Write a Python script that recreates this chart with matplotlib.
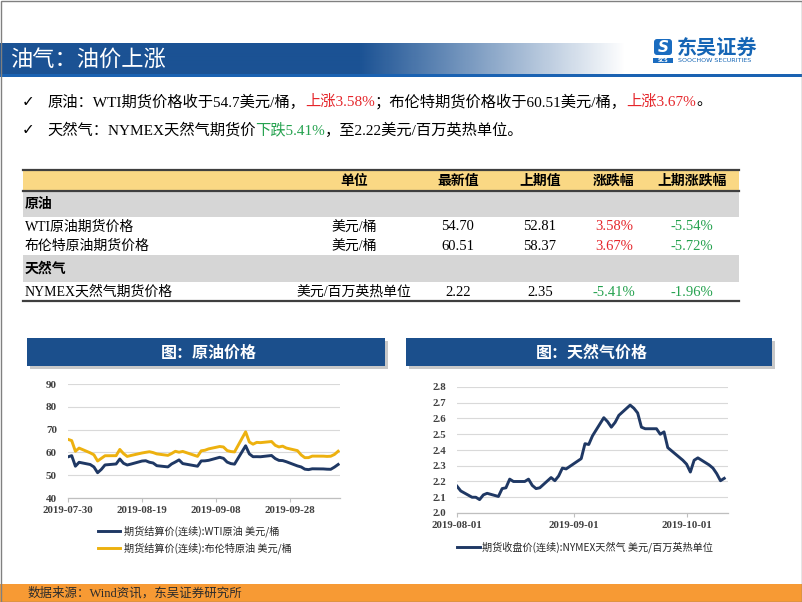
import matplotlib
matplotlib.use('Agg')
import matplotlib.pyplot as plt
from matplotlib.patches import Rectangle, FancyBboxPatch
import numpy as np
import pandas as pd

# ---------------- data ----------------
oil_dates = ['2019-07-30', '2019-07-31', '2019-08-01', '2019-08-02', '2019-08-05', '2019-08-06',
             '2019-08-07', '2019-08-08', '2019-08-09', '2019-08-12', '2019-08-13', '2019-08-14',
             '2019-08-15', '2019-08-16', '2019-08-19', '2019-08-20', '2019-08-21', '2019-08-22',
             '2019-08-23', '2019-08-26', '2019-08-27', '2019-08-28', '2019-08-29', '2019-08-30',
             '2019-09-03', '2019-09-04', '2019-09-05', '2019-09-06', '2019-09-09', '2019-09-10',
             '2019-09-11', '2019-09-12', '2019-09-13', '2019-09-16', '2019-09-17', '2019-09-18',
             '2019-09-19', '2019-09-20', '2019-09-23', '2019-09-24', '2019-09-25', '2019-09-26',
             '2019-09-27', '2019-09-30', '2019-10-01', '2019-10-02', '2019-10-03', '2019-10-04',
             '2019-10-07', '2019-10-08', '2019-10-09', '2019-10-10', '2019-10-11']
wti = [58.05, 58.58, 53.95, 55.66, 54.69, 53.63, 51.09, 52.54, 54.50, 54.93, 57.10, 55.23,
       54.47, 54.87, 56.21, 56.34, 55.68, 55.35, 54.17, 53.64, 54.93, 55.78, 56.71, 55.10,
       53.94, 56.26, 56.30, 56.52, 57.85, 57.40, 55.75, 55.09, 54.85, 62.90, 59.34, 58.11,
       58.13, 58.09, 58.64, 57.29, 56.49, 56.41, 55.91, 54.07, 53.62, 52.64, 52.45, 52.81,
       52.75, 52.63, 52.59, 53.55, 54.70]
brent = [65.72, 65.17, 60.50, 61.89, 59.81, 58.94, 56.23, 57.38, 58.53, 58.57, 61.30, 59.48,
         58.23, 58.64, 59.74, 60.03, 60.30, 59.92, 59.34, 58.70, 59.51, 60.49, 60.08, 60.43,
         58.26, 60.70, 60.95, 61.54, 62.59, 62.38, 60.81, 60.38, 60.22, 69.02, 64.55, 63.60,
         64.40, 64.28, 64.77, 63.10, 62.39, 62.74, 61.91, 60.78, 58.89, 57.69, 57.71, 58.37,
         58.35, 58.24, 58.32, 59.10, 60.51]
gas_dates = oil_dates[2:]
gas = [2.17, 2.14, 2.10, 2.10, 2.085, 2.115, 2.125, 2.105, 2.155, 2.16, 2.215, 2.20,
       2.20, 2.215, 2.175, 2.155, 2.16, 2.225, 2.205, 2.235, 2.285, 2.28,
       2.345, 2.44, 2.435, 2.49, 2.605, 2.58, 2.545, 2.575, 2.62, 2.685, 2.665, 2.635,
       2.545, 2.535, 2.535, 2.50, 2.515, 2.415, 2.395, 2.335,
       2.31, 2.26, 2.335, 2.35, 2.305, 2.285, 2.25, 2.205, 2.22]
oil_ticks = ['2019-07-30', '2019-08-19', '2019-09-08', '2019-09-28']
oil_yticks = [40, 50, 60, 70, 80, 90]
gas_ticks = ['2019-08-01', '2019-09-01', '2019-10-01']
gas_yticks = [2.0, 2.1, 2.2, 2.3, 2.4, 2.5, 2.6, 2.7, 2.8]

table_header = ['单位', '最新值', '上期值', '涨跌幅', '上期涨跌幅']
table_sections = ['原油', '天然气']
table_names = ['WTI原油期货价格', '布伦特原油期货价格', 'NYMEX天然气期货价格']
table_units = ['美元/桶', '美元/桶', '美元/百万英热单位']
table_latest = ['54.70', '60.51', '2.22']
table_prev = ['52.81', '58.37', '2.35']
table_chg = ['3.58%', '3.67%', '-5.41%']
table_prev_chg = ['-5.54%', '-5.72%', '-1.96%']

# ---------------- styles ----------------
W, H = 802, 602
SERIF = ['Liberation Serif', 'Noto Sans CJK SC', 'DejaVu Sans']
SANS = ['Noto Sans CJK SC', 'DejaVu Sans']
BLUE = '#1B4F8C'
NAVY = '#1F3864'
GOLD = '#EDB10F'
RED = '#E5262B'
GREEN = '#25A24F'

fig = plt.figure(figsize=(W / 100, H / 100), dpi=100)
bg = fig.add_axes([0, 0, 1, 1])
bg.axis('off')
renderer = fig.canvas.get_renderer()

# frame
bg.add_patch(Rectangle((0.5, 0.5), W - 1, H - 1, fill=False, ec='#808080', lw=1.0, zorder=10))

# title bar with gradient
xs = np.arange(W)
alpha = np.clip((625 - xs) / (625 - 360), 0, 1)
img = np.zeros((1, W, 4))
img[0, :, 0] = 0x1B / 255
img[0, :, 1] = 0x52 / 255
img[0, :, 2] = 0x94 / 255
img[0, :, 3] = alpha
bg.imshow(img, extent=[0, W, 74, 43], aspect='auto', interpolation='bilinear', zorder=1)
bg.add_patch(Rectangle((0, 74), W, 3, color='#1A62B2', lw=0, zorder=2))
bg.text(10, 59, '油气：油价上涨', color='white', fontsize=16, family=SANS,
        va='center', ha='left', zorder=3)

# logo
bg.add_patch(FancyBboxPatch((654, 39), 18, 16, boxstyle='round,pad=0,rounding_size=3',
                            fc='#1A6CC0', ec='none', zorder=3))
bg.text(663, 47.5, 'S', color='white', fontsize=11, fontweight='bold', style='italic',
        family='DejaVu Sans', ha='center', va='center', zorder=4)
bg.add_patch(Rectangle((653, 57.5), 20, 5, color='#1A6CC0', lw=0, zorder=3))
bg.text(663, 60, 'SCS', color='white', fontsize=3.5, fontweight='bold', family='DejaVu Sans',
        ha='center', va='center', zorder=4)
bg.text(677, 47, '东吴证券', color='#1565B5', fontsize=14.5, fontweight='bold', family=SANS,
        ha='left', va='center', zorder=3)
bg.text(678, 60.5, 'SOOCHOW SECURITIES', color='#1565B5', fontsize=4.6, family='DejaVu Sans',
        ha='left', va='center', zorder=3)


def seq_text(x, y, parts, **kw):
    for s, c in parts:
        t = bg.text(x, y, s, color=c, ha='left', va='center', **kw)
        bb = t.get_window_extent(renderer=renderer)
        x += bb.width


# bullets
bg.set_xlim(0, W)
bg.set_ylim(H, 0)
bg.text(22, 102, '✓', fontsize=11, family=['DejaVu Sans'], ha='left', va='center')
bg.text(22, 130, '✓', fontsize=11, family=['DejaVu Sans'], ha='left', va='center')
seq_text(47, 102, [('原油：WTI期货价格收于54.7美元/桶，', 'black'), ('上涨3.58%', RED),
                   ('；布伦特期货价格收于60.51美元/桶，', 'black'), ('上涨3.67%', RED),
                   ('。', 'black')], fontsize=11, family=SERIF)
seq_text(47, 130, [('天然气：NYMEX天然气期货价', 'black'), ('下跌5.41%', GREEN),
                   ('，至2.22美元/百万英热单位。', 'black')], fontsize=11, family=SERIF)

# table
TL, TR = 23, 739
bg.add_patch(Rectangle((TL, 171), TR - TL, 20, color='#FAD884', lw=0, zorder=1))
bg.add_patch(Rectangle((TL, 192), TR - TL, 25, color='#D6D6D6', lw=0, zorder=1))
bg.add_patch(Rectangle((TL, 255), TR - TL, 27, color='#D6D6D6', lw=0, zorder=1))
for yy, lw in [(170, 1.6), (191, 1.6), (301, 1.6)]:
    bg.plot([TL, TR], [yy, yy], color='#3F3F3F', lw=lw, zorder=2)
col_x = [354, 458, 540, 614, 692]
for cx, h in zip(col_x, table_header):
    bg.text(cx, 181, h, fontsize=10, fontweight='bold', family=SANS, ha='center', va='center')
bg.text(25, 204, table_sections[0], fontsize=10, fontweight='bold', family=SANS, va='center')
bg.text(25, 269, table_sections[1], fontsize=10, fontweight='bold', family=SANS, va='center')
row_y = [227, 246, 292]
for i, ry in enumerate(row_y):
    bg.text(25, ry, table_names[i], fontsize=10, family=SERIF, va='center', ha='left')
    bg.text(col_x[0], ry, table_units[i], fontsize=10, family=SERIF, va='center', ha='center')
    bg.text(col_x[1], ry, table_latest[i], fontsize=10.5, family=SERIF, va='center', ha='center')
    bg.text(col_x[2], ry, table_prev[i], fontsize=10.5, family=SERIF, va='center', ha='center')
    c1 = GREEN if table_chg[i].startswith('-') else RED
    c2 = GREEN if table_prev_chg[i].startswith('-') else RED
    bg.text(col_x[3], ry, table_chg[i], fontsize=10.5, family=SERIF, va='center', ha='center', color=c1)
    bg.text(col_x[4], ry, table_prev_chg[i], fontsize=10.5, family=SERIF, va='center', ha='center', color=c2)

# chart title boxes
for (x0, x1, title) in [(27, 385, '图：原油价格'), (406, 772, '图：天然气价格')]:
    bg.add_patch(Rectangle((x0 + 3, 341), x1 - x0, 28, color='#C8C8C8', lw=0, zorder=1))
    bg.add_patch(Rectangle((x0, 338), x1 - x0, 28, color=BLUE, lw=0, zorder=2))
    bg.text((x0 + x1) / 2 + 3, 352.5, title, color='white', fontsize=11.5, fontweight='bold',
            family=SANS, ha='center', va='center', zorder=3)


def style_axes(ax):
    for s in ['left', 'right', 'top']:
        ax.spines[s].set_visible(False)
    ax.spines['bottom'].set_color('#BFBFBF')
    ax.spines['bottom'].set_linewidth(0.9)
    ax.yaxis.grid(True, color='#D9D9D9', lw=0.8)
    ax.set_axisbelow(True)
    ax.tick_params(axis='y', length=0, pad=8)
    ax.tick_params(axis='x', length=3, color='#BFBFBF', pad=3, direction='out')
    ax.set_facecolor('none')


tickfont = dict(family='Liberation Serif', fontweight='bold', color='#404040')

# oil chart
ax1 = fig.add_axes([68 / W, 1 - 498 / H, (340 - 68) / W, (498 - 384) / H])
od = pd.to_datetime(oil_dates)
ax1.plot(od, wti, color=NAVY, lw=2.1)
ax1.plot(od, brent, color=GOLD, lw=2.1)
ax1.set_ylim(40, 90)
ax1.set_xlim(pd.Timestamp('2019-07-30'), pd.Timestamp('2019-10-11') + pd.Timedelta(hours=12))
style_axes(ax1)
ax1.set_xticks(pd.to_datetime(oil_ticks), labels=oil_ticks, fontsize=7.8, **tickfont)
ax1.set_yticks(oil_yticks, labels=[str(v) for v in oil_yticks], fontsize=8, **tickfont)

bg.plot([98, 120], [531, 531], color=NAVY, lw=2.1)
bg.plot([98, 120], [548, 548], color=GOLD, lw=2.1)
bg.text(124, 531, '期货结算价(连续):WTI原油 美元/桶', fontsize=7.3, family=SANS,
        color='#262626', va='center')
bg.text(124, 548, '期货结算价(连续):布伦特原油 美元/桶', fontsize=7.3, family=SANS,
        color='#262626', va='center')

# gas chart
ax2 = fig.add_axes([457 / W, 1 - 513 / H, (728 - 457) / W, (513 - 387) / H])
gd = pd.to_datetime(gas_dates)
ax2.plot(gd, gas, color=NAVY, lw=2.1)
ax2.set_ylim(2.0, 2.8)
ax2.set_xlim(pd.Timestamp('2019-08-01'), pd.Timestamp('2019-10-12'))
style_axes(ax2)
ax2.set_xticks(pd.to_datetime(gas_ticks), labels=gas_ticks, fontsize=7.8, **tickfont)
ax2.set_yticks(gas_yticks, labels=['%.1f' % v for v in gas_yticks], fontsize=7.8, **tickfont)

bg.plot([457, 480], [547, 547], color=NAVY, lw=2.1)
bg.text(482, 547, '期货收盘价(连续):NYMEX天然气 美元/百万英热单位', fontsize=7.3, family=SANS,
        color='#262626', va='center')

# footer
bg.add_patch(Rectangle((0, 584), W, 18, color='#F79A34', lw=0, zorder=1))
bg.text(28, 593, '数据来源：Wind资讯，东吴证券研究所', fontsize=9, family=SERIF,
        color='#2B2B2B', va='center', ha='left', zorder=3)

bg.set_xlim(0, W)
bg.set_ylim(H, 0)
fig.savefig('out.png', dpi=100)
